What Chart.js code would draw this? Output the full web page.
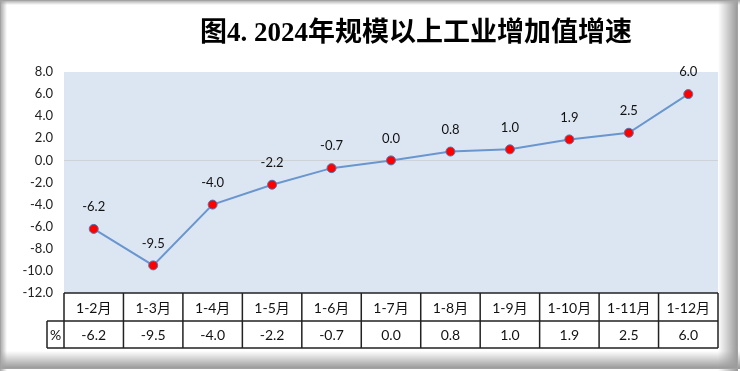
<!DOCTYPE html>
<html>
<head>
<meta charset="utf-8">
<script src="https://cdn.jsdelivr.net/npm/chart.js@4"></script>
<style>
  html, body { margin: 0; padding: 0; background: #fff; }
  #wrap { width: 740px; height: 371px; }
</style>
</head>
<body>
<div id="wrap"><canvas id="growthChart" width="740" height="371"></canvas></div>
<script>
const months = ['1-2月', '1-3月', '1-4月', '1-5月', '1-6月', '1-7月', '1-8月', '1-9月', '1-10月', '1-11月', '1-12月'];
const growth = [-6.2, -9.5, -4.0, -2.2, -0.7, 0.0, 0.8, 1.0, 1.9, 2.5, 6.0];
const yMin = -12, yMax = 8, yStep = 2;
const titleText = '图4. 2024年规模以上工业增加值增速';
const unitLabel = '%';

const labelFont = "Lato, 'Noto Sans CJK SC', sans-serif";

// frame, plot background and title
const backdrop = {
  id: 'backdrop',
  beforeDraw(chart) {
    const { ctx, width, height, chartArea } = chart;
    ctx.save();
    ctx.fillStyle = '#fff';
    ctx.fillRect(0, 0, width, height);

    let g = ctx.createLinearGradient(718, 0, 737, 0);
    g.addColorStop(0, 'rgba(160,160,160,0)');
    g.addColorStop(1, 'rgba(155,155,155,1)');
    ctx.fillStyle = g;
    ctx.fillRect(718, 0, 20, height);
    g = ctx.createLinearGradient(0, 351, 0, 368);
    g.addColorStop(0, 'rgba(160,160,160,0)');
    g.addColorStop(1, 'rgba(155,155,155,1)');
    ctx.fillStyle = g;
    ctx.fillRect(0, 351, width, 18);
    g = ctx.createLinearGradient(0, 0, 7, 0);
    g.addColorStop(0, 'rgba(165,165,165,1)');
    g.addColorStop(1, 'rgba(165,165,165,0)');
    ctx.fillStyle = g;
    ctx.fillRect(0, 0, 7, height);
    g = ctx.createLinearGradient(0, 0, 0, 5);
    g.addColorStop(0, 'rgba(165,165,165,1)');
    g.addColorStop(1, 'rgba(165,165,165,0)');
    ctx.fillStyle = g;
    ctx.fillRect(0, 0, width, 5);
    ctx.strokeStyle = '#a2a2a2';
    ctx.lineWidth = 1;
    ctx.strokeRect(0.5, 0.5, 737, 368);

    ctx.fillStyle = '#dce6f2';
    ctx.fillRect(chartArea.left, chartArea.top, chartArea.right - chartArea.left, chartArea.bottom - chartArea.top);

    ctx.fillStyle = '#000';
    ctx.font = "bold 27px 'Liberation Serif', 'Noto Sans CJK SC', serif";
    ctx.textAlign = 'center';
    ctx.textBaseline = 'middle';
    ctx.fillText(titleText, 416, 34);
    ctx.restore();
  }
};

// value labels above the points
const pointLabels = {
  id: 'pointLabels',
  afterDatasetsDraw(chart) {
    const { ctx } = chart;
    const meta = chart.getDatasetMeta(0);
    ctx.save();
    ctx.font = '13px ' + labelFont;
    ctx.fillStyle = '#111';
    ctx.textAlign = 'center';
    ctx.textBaseline = 'middle';
    meta.data.forEach((pt, i) => {
      ctx.fillText(growth[i].toFixed(1), pt.x, pt.y - 22);
    });
    ctx.restore();
  }
};

// data table under the plot
const dataTable = {
  id: 'dataTable',
  afterDraw(chart) {
    const { ctx, chartArea } = chart;
    const x = chart.scales.x;
    const top = chartArea.bottom, mid = top + 28, bot = mid + 27;
    const left = chartArea.left, right = chartArea.right, headLeft = 47;
    const colW = (right - left) / months.length;
    ctx.save();
    ctx.strokeStyle = '#222';
    ctx.lineWidth = 1.5;
    ctx.beginPath();
    ctx.moveTo(left, top); ctx.lineTo(right, top);
    ctx.moveTo(headLeft, mid); ctx.lineTo(right, mid);
    ctx.moveTo(headLeft, bot); ctx.lineTo(right, bot);
    ctx.moveTo(headLeft, mid); ctx.lineTo(headLeft, bot);
    for (let i = 0; i <= months.length; i++) {
      const cx = left + i * colW;
      ctx.moveTo(cx, top); ctx.lineTo(cx, bot);
    }
    ctx.stroke();

    ctx.fillStyle = '#111';
    ctx.font = '14px ' + labelFont;
    ctx.textAlign = 'center';
    ctx.textBaseline = 'middle';
    months.forEach((m, i) => {
      const cx = x.getPixelForValue(i);
      ctx.fillText(m, cx, (top + mid) / 2 + 1);
      ctx.fillText(growth[i].toFixed(1), cx, (mid + bot) / 2 + 1);
    });
    ctx.fillText(unitLabel, (headLeft + left) / 2, (mid + bot) / 2 + 1);
    ctx.restore();
  }
};

new Chart(document.getElementById('growthChart'), {
  type: 'line',
  data: {
    labels: months,
    datasets: [{
      label: unitLabel,
      data: growth,
      borderColor: '#6a96cf',
      borderWidth: 2,
      tension: 0,
      pointBackgroundColor: '#ff0000',
      pointBorderColor: '#4f76b0',
      pointBorderWidth: 1,
      pointRadius: 4.5
    }]
  },
  options: {
    responsive: false,
    animation: false,
    devicePixelRatio: 1,
    layout: { padding: { top: 72, bottom: 78, left: 0, right: 22 } },
    plugins: {
      legend: { display: false },
      tooltip: { enabled: false }
    },
    scales: {
      x: { display: false, offset: true },
      y: {
        min: yMin,
        max: yMax,
        afterFit(scale) { scale.width = 64; },
        border: { display: false },
        grid: {
          drawTicks: false,
          color: ctx => ctx.tick && ctx.tick.value === 0 ? '#cfd3d8' : 'rgba(0,0,0,0)'
        },
        ticks: {
          stepSize: yStep,
          padding: 11,
          color: '#222',
          font: { family: labelFont, size: 13 },
          callback: v => v.toFixed(1)
        }
      }
    }
  },
  plugins: [backdrop, pointLabels, dataTable]
});
</script>
</body>
</html>
